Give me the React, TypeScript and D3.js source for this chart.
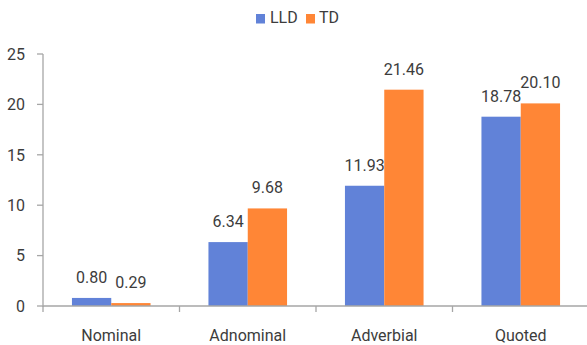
import React from "react";
import * as d3 from "d3";

const categories = ["Nominal", "Adnominal", "Adverbial", "Quoted"];
const seriesNames = ["LLD", "TD"];
const lldValues = [0.8, 6.34, 11.93, 18.78];
const tdValues = [0.29, 9.68, 21.46, 20.1];
const yTicks = [0, 5, 10, 15, 20, 25];
const colors = ["#6182D8", "#FF8636"];

export default function App() {
  const W = 587, H = 345;
  const left = 43, bottom = 306, top = 54;
  const band = 136.5;
  const right = left + band * categories.length;
  const x = d3.scaleBand<string>().domain(categories).range([left, right]).paddingInner(0).paddingOuter(0);
  const y = d3.scaleLinear().domain([0, 25]).range([bottom, top]);
  const groupW = 78.6;
  const xs = d3.scaleBand<string>().domain(seriesNames).range([0, groupW]).padding(0);
  const series = [lldValues, tdValues];
  const font = "Roboto, 'Noto Sans', sans-serif";
  const textColor = "#3c3c3c";
  const axisColor = "#a6a6a6";
  const fs = 16;
  return (
    <svg width={W} height={H} style={{ position: "absolute", left: 0, top: 0, background: "#fff" }} fontFamily={font}>
      {categories.map((c, i) => {
        const gx = (x(c) as number) + x.bandwidth() / 2 - groupW / 2;
        return seriesNames.map((s, j) => {
          const v = series[j][i];
          const bx = gx + (xs(s) as number);
          return (
            <g key={c + s}>
              <rect x={bx} y={y(v)} width={xs.bandwidth()} height={y(0) - y(v)} fill={colors[j]} />
              <text x={bx + xs.bandwidth() / 2} y={y(v) - 15} textAnchor="middle" fontSize={fs} fill={textColor}>
                {v.toFixed(2)}
              </text>
            </g>
          );
        });
      })}
      <line x1={left} x2={left} y1={top} y2={bottom + 1} stroke={axisColor} strokeWidth={1.3} />
      {yTicks.map((t) => (
        <g key={t}>
          <line x1={left - 6} x2={left} y1={y(t)} y2={y(t)} stroke={axisColor} strokeWidth={1.3} />
          <text x={25} y={y(t)} dy="0.36em" textAnchor="end" fontSize={fs} fill={textColor}>
            {t}
          </text>
        </g>
      ))}
      <line x1={left} x2={W} y1={bottom} y2={bottom} stroke={axisColor} strokeWidth={1.3} />
      {categories.map((c) => (
        <line key={"t" + c} x1={x(c) as number} x2={x(c) as number} y1={bottom} y2={bottom + 6} stroke={axisColor} strokeWidth={1.3} />
      ))}
      {categories.map((c) => (
        <text key={"l" + c} x={(x(c) as number) + x.bandwidth() / 2} y={341} textAnchor="middle" fontSize={fs} fill={textColor}>
          {c}
        </text>
      ))}
      <rect x={256} y={14} width={9} height={9.5} fill={colors[0]} />
      <text x={270} y={23} fontSize={fs} fill={textColor}>{seriesNames[0]}</text>
      <rect x={306} y={14} width={9} height={9.5} fill={colors[1]} />
      <text x={319} y={23} fontSize={fs} fill={textColor}>{seriesNames[1]}</text>
    </svg>
  );
}
